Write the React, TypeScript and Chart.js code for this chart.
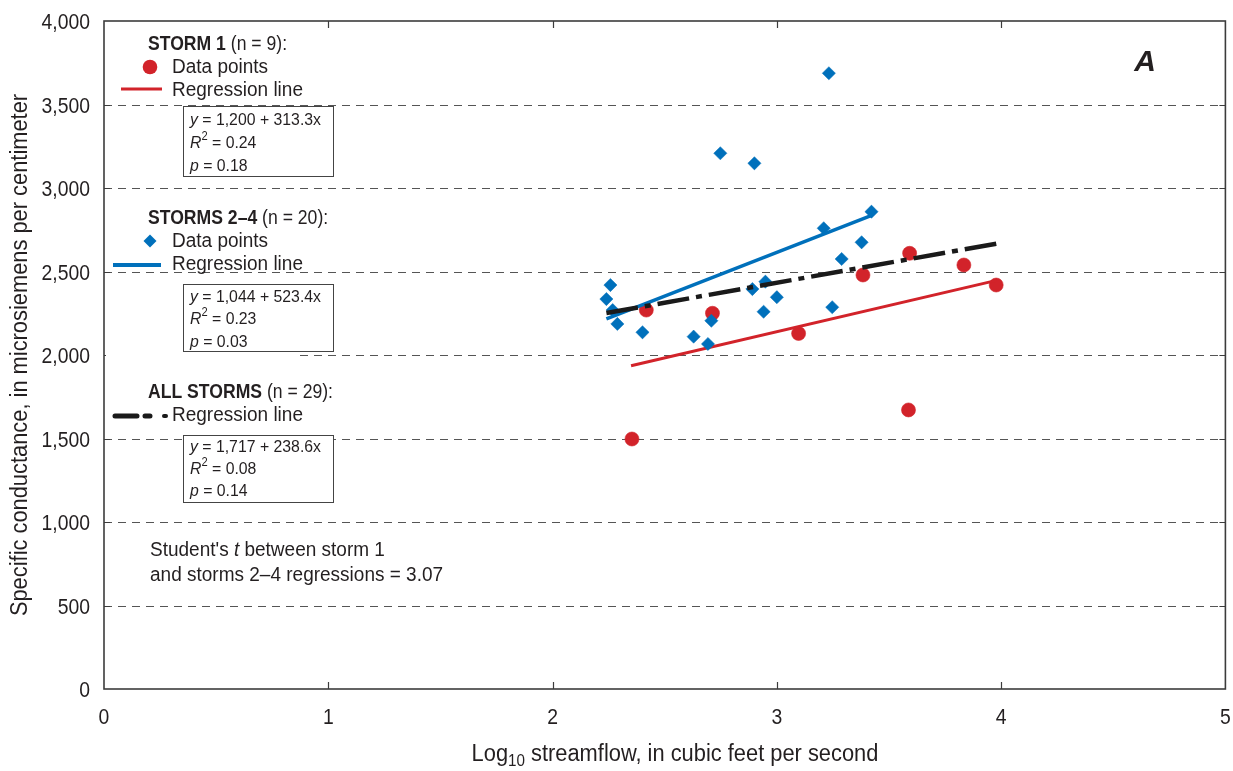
import React, { useEffect, useRef } from 'react';
import { Chart, registerables } from 'chart.js';

Chart.register(...registerables);

// ---- Data ----
const storm1X = [2.418, 2.713, 3.097, 3.384, 3.592, 3.834, 3.978, 2.354, 3.587];
const storm1Y = [2269, 2250, 2129, 2479, 2609, 2539, 2419, 1497, 1671];

const storms24X = [2.258, 2.24, 2.268, 2.289, 2.401, 2.629, 2.693, 2.708, 2.891, 2.949, 3.0, 2.941, 3.247, 3.289, 3.378, 3.209, 3.422, 3.232, 2.748, 2.9];
const storms24Y = [2419, 2335, 2269, 2186, 2136, 2110, 2066, 2205, 2395, 2439, 2346, 2259, 2286, 2575, 2675, 2759, 2858, 3687, 3208, 3148];

const storm1LineX = [2.35, 3.98];
const storm1LineY = [1936, 2447];
const storms24LineX = [2.24, 3.42];
const storms24LineY = [2216, 2834];
const allLineX = [2.24, 3.98];
const allLineY = [2251, 2667];

const xTickValues = [0, 1, 2, 3, 4, 5];
const yTickValues = [0, 500, 1000, 1500, 2000, 2500, 3000, 3500, 4000];

const eq1 = ['1,200', '313.3', '0.24', '0.18'];
const eq24 = ['1,044', '523.4', '0.23', '0.03'];
const eqAll = ['1,717', '238.6', '0.08', '0.14'];

const RED = '#d2232a';
const BLUE = '#0070bb';
const BLACK = '#1a1a1a';
const TEXT = '#231f20';
const FF = "'Liberation Sans', Arial, sans-serif";

type Seg = { t: string; b?: boolean; i?: boolean; sup?: boolean; sub?: boolean };

function fontFor(s: Seg, size: number) {
  const sz = s.sup || s.sub ? Math.round(size * 0.68) : size;
  return `${s.i ? 'italic ' : ''}${s.b ? 'bold ' : ''}${sz}px ${FF}`;
}

function drawRich(ctx: CanvasRenderingContext2D, x: number, y: number, segs: Seg[], size: number, align: 'left' | 'center' | 'right' = 'left', sx = 1) {
  ctx.save();
  ctx.translate(x, y);
  ctx.scale(sx, 1);
  ctx.textBaseline = 'middle';
  ctx.textAlign = 'left';
  ctx.fillStyle = TEXT;
  let total = 0;
  for (const s of segs) {
    ctx.font = fontFor(s, size);
    total += ctx.measureText(s.t).width;
  }
  let cx = align === 'center' ? -total / 2 : align === 'right' ? -total : 0;
  for (const s of segs) {
    ctx.font = fontFor(s, size);
    const dy = s.sup ? -size * 0.35 : s.sub ? size * 0.3 : 0;
    ctx.fillText(s.t, cx, dy);
    cx += ctx.measureText(s.t).width;
  }
  ctx.restore();
}

function drawEqBox(ctx: CanvasRenderingContext2D, top: number, h: number, eq: string[], lines: number[]) {
  ctx.save();
  ctx.fillStyle = '#ffffff';
  ctx.fillRect(183, top, 150, h);
  ctx.strokeStyle = '#444';
  ctx.lineWidth = 1;
  ctx.strokeRect(183.5, top + 0.5, 150, h);
  ctx.restore();
  drawRich(ctx, 190, lines[0], [{ t: 'y', i: true }, { t: ` = ${eq[0]} + ${eq[1]}x` }], 17, 'left', 0.93);
  drawRich(ctx, 190, lines[1], [{ t: 'R', i: true }, { t: '2', sup: true }, { t: ` = ${eq[2]}` }], 17, 'left', 0.93);
  drawRich(ctx, 190, lines[2], [{ t: 'p', i: true }, { t: ` = ${eq[3]}` }], 17, 'left', 0.93);
}

const framePlugin = {
  id: 'framePlugin',
  beforeDatasetsDraw(chart: any) {
    const { ctx, chartArea, scales } = chart;
    const y = scales.y;
    ctx.save();
    ctx.strokeStyle = '#555';
    ctx.lineWidth = 1;
    ctx.setLineDash([8, 6]);
    for (const v of yTickValues) {
      if (v === 0 || v === 4000) continue;
      const py = Math.round(y.getPixelForValue(v)) + 0.5;
      ctx.beginPath();
      ctx.moveTo(chartArea.left, py);
      ctx.lineTo(chartArea.right, py);
      ctx.stroke();
    }
    ctx.restore();
  },
  afterDatasetsDraw(chart: any) {
    const { ctx, chartArea, scales } = chart;
    const xs = scales.x;
    const ys = scales.y;
    ctx.save();
    // frame
    ctx.strokeStyle = '#3c3c3c';
    ctx.lineWidth = 1.6;
    ctx.strokeRect(chartArea.left, chartArea.top, chartArea.right - chartArea.left, chartArea.bottom - chartArea.top);
    // inward ticks
    ctx.lineWidth = 1.2;
    for (const v of xTickValues) {
      if (v === 0 || v === 5) continue;
      const px = Math.round(xs.getPixelForValue(v)) + 0.5;
      ctx.beginPath();
      ctx.moveTo(px, chartArea.bottom);
      ctx.lineTo(px, chartArea.bottom - 7);
      ctx.moveTo(px, chartArea.top);
      ctx.lineTo(px, chartArea.top + 7);
      ctx.stroke();
    }
    for (const v of yTickValues) {
      if (v === 0 || v === 4000) continue;
      const py = Math.round(ys.getPixelForValue(v)) + 0.5;
      ctx.beginPath();
      ctx.moveTo(chartArea.left, py);
      ctx.lineTo(chartArea.left + 6, py);
      ctx.moveTo(chartArea.right, py);
      ctx.lineTo(chartArea.right - 6, py);
      ctx.stroke();
    }
    ctx.restore();

    // tick labels
    for (const v of xTickValues) {
      drawRich(ctx, xs.getPixelForValue(v), chartArea.bottom + 29, [{ t: String(v) }], 22, 'center', 0.88);
    }
    for (const v of yTickValues) {
      drawRich(ctx, chartArea.left - 14, ys.getPixelForValue(v) + 2, [{ t: v.toLocaleString('en-US') }], 22, 'right', 0.88);
    }

    // ---- Legend: STORM 1 ----
    drawRich(ctx, 148, 44, [{ t: 'STORM 1', b: true }, { t: ' (n = 9):' }], 20, 'left', 0.88);
    ctx.save();
    ctx.fillStyle = RED;
    ctx.beginPath();
    ctx.arc(150, 67, 7.3, 0, Math.PI * 2);
    ctx.fill();
    ctx.strokeStyle = RED;
    ctx.lineWidth = 3;
    ctx.beginPath();
    ctx.moveTo(121, 89);
    ctx.lineTo(162, 89);
    ctx.stroke();
    ctx.restore();
    drawRich(ctx, 172, 67, [{ t: 'Data points' }], 20, 'left', 0.95);
    drawRich(ctx, 172, 90, [{ t: 'Regression line' }], 20, 'left', 0.95);
    drawEqBox(ctx, 106, 70, eq1, [120, 143, 166]);

    // ---- Legend: STORMS 2-4 ----
    drawRich(ctx, 148, 218, [{ t: 'STORMS 2\u20134', b: true }, { t: ' (n = 20):' }], 20, 'left', 0.88);
    ctx.save();
    ctx.fillStyle = BLUE;
    ctx.beginPath();
    ctx.moveTo(150, 234.5);
    ctx.lineTo(156.5, 241);
    ctx.lineTo(150, 247.5);
    ctx.lineTo(143.5, 241);
    ctx.closePath();
    ctx.fill();
    ctx.strokeStyle = BLUE;
    ctx.lineWidth = 4;
    ctx.beginPath();
    ctx.moveTo(113, 265);
    ctx.lineTo(161, 265);
    ctx.stroke();
    ctx.restore();
    drawRich(ctx, 172, 241, [{ t: 'Data points' }], 20, 'left', 0.95);
    drawRich(ctx, 172, 264, [{ t: 'Regression line' }], 20, 'left', 0.95);
    ctx.save();
    ctx.fillStyle = '#ffffff';
    ctx.fillRect(106, 352, 190, 6);
    ctx.restore();
    drawEqBox(ctx, 284, 67, eq24, [297, 319, 342]);

    // ---- Legend: ALL STORMS ----
    drawRich(ctx, 148, 392, [{ t: 'ALL STORMS', b: true }, { t: ' (n = 29):' }], 20, 'left', 0.88);
    ctx.save();
    ctx.strokeStyle = BLACK;
    ctx.lineCap = 'round';
    ctx.lineWidth = 5;
    ctx.beginPath();
    ctx.moveTo(115, 416);
    ctx.lineTo(137, 416);
    ctx.moveTo(145, 416);
    ctx.lineTo(150, 416);
    ctx.stroke();
    ctx.lineWidth = 4;
    ctx.beginPath();
    ctx.moveTo(164, 416);
    ctx.lineTo(166, 416);
    ctx.stroke();
    ctx.restore();
    drawRich(ctx, 172, 415, [{ t: 'Regression line' }], 20, 'left', 0.95);
    drawEqBox(ctx, 435, 67, eqAll, [447, 469, 491]);

    // Student's t
    drawRich(ctx, 150, 550, [{ t: "Student's " }, { t: 't', i: true }, { t: ' between storm 1' }], 20, 'left', 0.95);
    drawRich(ctx, 150, 575, [{ t: 'and storms 2\u20134 regressions = 3.07' }], 20, 'left', 0.95);

    // Panel letter
    drawRich(ctx, 1145, 63, [{ t: 'A', b: true, i: true }], 30, 'center');

    // Axis titles
    drawRich(ctx, 675, 755, [{ t: 'Log' }, { t: '10', sub: true }, { t: ' streamflow, in cubic feet per second' }], 23, 'center', 0.95);
    ctx.save();
    ctx.translate(21, 355);
    ctx.rotate(-Math.PI / 2);
    drawRich(ctx, 0, 0, [{ t: 'Specific conductance, in microsiemens per centimeter' }], 23, 'center', 0.95);
    ctx.restore();
  },
};

export default function App() {
  const canvasRef = useRef<HTMLCanvasElement | null>(null);

  useEffect(() => {
    if (!canvasRef.current) return;
    const storm1Pts = storm1X.map((x, i) => ({ x, y: storm1Y[i] }));
    const storms24Pts = storms24X.map((x, i) => ({ x, y: storms24Y[i] }));
    const line1 = storm1LineX.map((x, i) => ({ x, y: storm1LineY[i] }));
    const line24 = storms24LineX.map((x, i) => ({ x, y: storms24LineY[i] }));
    const lineAll = allLineX.map((x, i) => ({ x, y: allLineY[i] }));

    const chart = new Chart(canvasRef.current, {
      type: 'scatter',
      data: {
        datasets: [
          {
            label: 'Storm 1 data points',
            data: storm1Pts,
            pointStyle: 'circle',
            pointRadius: 7,
            pointBackgroundColor: RED,
            pointBorderColor: RED,
            pointBorderWidth: 0.6,
            showLine: false,
            order: 5,
          } as any,
          {
            label: 'Storm 1 regression line',
            data: line1,
            showLine: true,
            borderColor: RED,
            borderWidth: 3,
            pointRadius: 0,
            order: 4,
          } as any,
          {
            label: 'Storms 2-4 regression line',
            data: line24,
            showLine: true,
            borderColor: BLUE,
            borderWidth: 3.5,
            pointRadius: 0,
            order: 3,
          } as any,
          {
            label: 'Storms 2-4 data points',
            data: storms24Pts,
            pointStyle: 'rectRot',
            pointRadius: 6.6,
            pointBackgroundColor: BLUE,
            pointBorderColor: BLUE,
            pointBorderWidth: 0.5,
            showLine: false,
            order: 2,
          } as any,
          {
            label: 'All storms regression line',
            data: lineAll,
            showLine: true,
            borderColor: BLACK,
            borderWidth: 4.5,
            borderDash: [32, 7, 6, 7],
            pointRadius: 0,
            order: 1,
          } as any,
        ],
      },
      options: {
        animation: false,
        responsive: true,
        maintainAspectRatio: false,
        layout: { padding: { left: 0, top: 21, right: 7, bottom: 0 } },
        plugins: {
          legend: { display: false },
          tooltip: { enabled: false },
          title: { display: false },
        },
        scales: {
          x: {
            type: 'linear',
            min: 0,
            max: 5,
            afterFit: (s: any) => {
              s.height = 82;
              s.paddingLeft = 0;
              s.paddingRight = 0;
            },
            grid: { display: false, drawTicks: false },
            border: { display: false },
            ticks: { display: false, stepSize: 1 },
          },
          y: {
            type: 'linear',
            min: 0,
            max: 4000,
            afterFit: (s: any) => {
              s.width = 104;
              s.paddingTop = 0;
              s.paddingBottom = 0;
            },
            grid: { display: false, drawTicks: false },
            border: { display: false },
            ticks: { display: false, stepSize: 500 },
          },
        },
      } as any,
      plugins: [framePlugin],
    });
    return () => chart.destroy();
  }, []);

  return (
    <div style={{ position: 'fixed', left: 0, top: 0, width: 1233, height: 771, background: '#fff' }}>
      <canvas ref={canvasRef} />
    </div>
  );
}
